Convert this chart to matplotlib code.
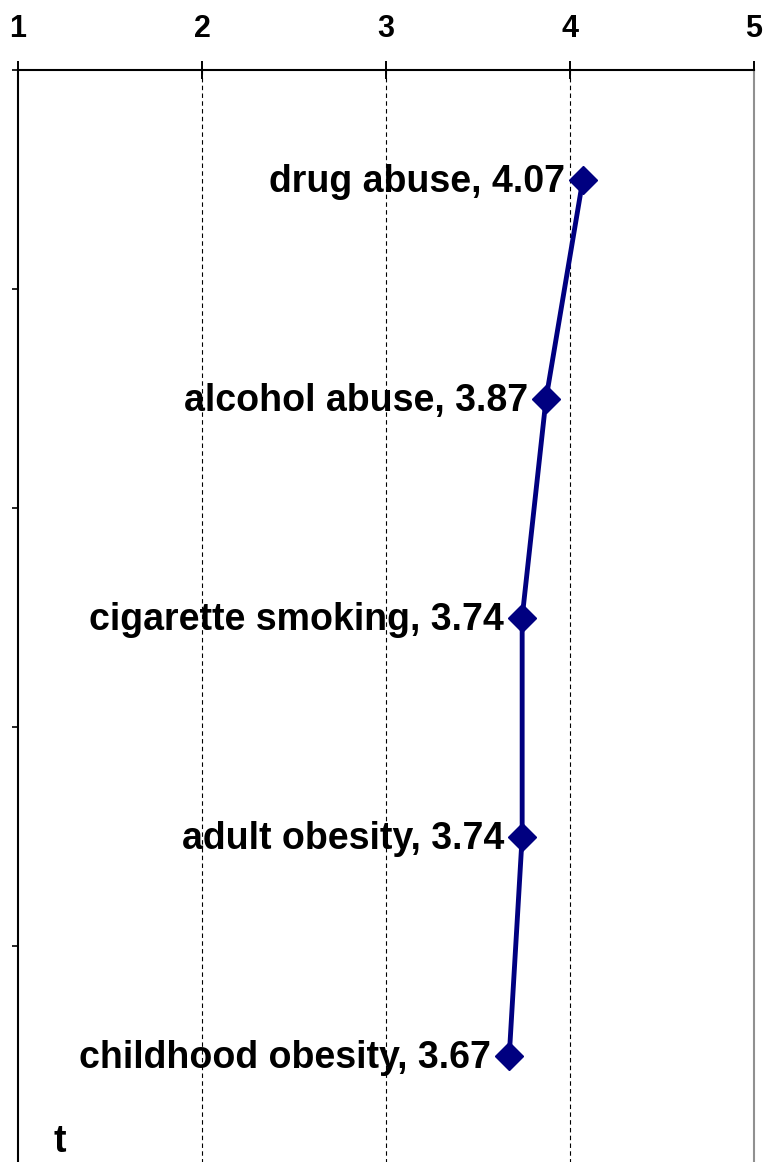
import numpy as np
import matplotlib.pyplot as plt

# --- data ---
categories = ["drug abuse", "alcohol abuse", "cigarette smoking", "adult obesity", "childhood obesity"]
scores = [4.07, 3.87, 3.74, 3.74, 3.67]
xticks = [1, 2, 3, 4, 5]

plt.rcParams['font.family'] = ['Liberation Sans', 'DejaVu Sans']

fig = plt.figure(figsize=(7.63, 11.62), dpi=100)
ax = fig.add_axes([18 / 763, -3 / 1162, 736 / 763, 1095 / 1162])

ypos = np.arange(len(categories))
ax.plot(scores, ypos, color='#000080', linewidth=3.5, marker='D', markersize=14,
        markerfacecolor='#000080', markeredgecolor='#000080', zorder=3)

for cat, v, y in zip(categories, scores, ypos):
    ax.annotate(f"{cat}, {v:.2f}", xy=(v, y), xytext=(-13, -2), textcoords='offset points',
                ha='right', va='center', fontsize=27, fontweight='bold')

ax.set_xlim(1, 5)
ax.set_ylim(len(categories) - 0.5, -0.5)
ax.xaxis.tick_top()
ax.set_xticks(xticks)
ax.set_xticklabels([str(t) for t in xticks], fontsize=22, fontweight='bold')
ax.tick_params(axis='x', direction='inout', length=13, width=1.4, pad=12)
ax.set_yticks(np.arange(-0.5, len(categories), 1.0))
ax.set_yticklabels([])
ax.tick_params(axis='y', direction='out', length=4.5, width=1.2)

for t in xticks[1:-1]:
    ax.axvline(t, color='black', linestyle=(0, (4, 3)), linewidth=0.8, zorder=1)

ax.spines['left'].set_linewidth(1.5)
ax.spines['top'].set_linewidth(1.5)
ax.spines['right'].set_color('#909090')
ax.spines['right'].set_linewidth(1.5)
ax.spines['bottom'].set_visible(False)

fig.text(60 / 763, 1 - 1142 / 1162, "t", fontsize=27, fontweight='bold', ha='center', va='center')

fig.savefig("out.png", dpi=100)
